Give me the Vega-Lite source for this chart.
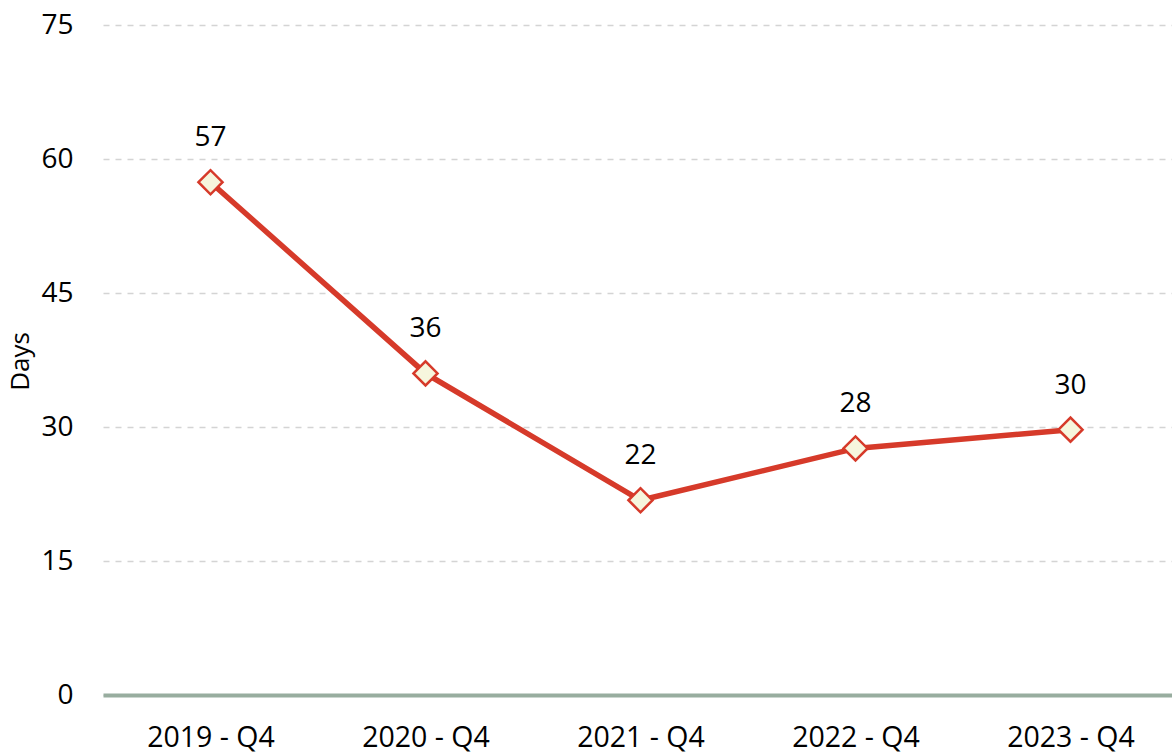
{
  "$schema": "https://vega.github.io/schema/vega-lite/v6.json",
  "autosize": {"type": "none"},
  "width": 1075,
  "height": 670,
  "padding": {"left": 103, "top": 25, "right": 0, "bottom": 60},
  "background": "white",
  "config": {
    "view": {"stroke": null},
    "font": "Open Sans"
  },
  "data": {
    "values": [
      {"quarter": "2019 - Q4", "days": 57.4},
      {"quarter": "2020 - Q4", "days": 36.0},
      {"quarter": "2021 - Q4", "days": 21.8},
      {"quarter": "2022 - Q4", "days": 27.6},
      {"quarter": "2023 - Q4", "days": 29.7}
    ]
  },
  "encoding": {
    "x": {
      "field": "quarter",
      "type": "ordinal",
      "scale": {"type": "point", "padding": 0.5},
      "axis": {
        "title": null,
        "labelAngle": 0,
        "labelFont": "Open Sans",
        "labelFontSize": 28.5,
        "labelColor": "#000000",
        "labelPadding": 28,
        "ticks": false,
        "domain": true,
        "domainColor": "#98ad9f",
        "domainWidth": 4,
        "grid": false
      }
    },
    "y": {
      "field": "days",
      "type": "quantitative",
      "scale": {"domain": [0, 75], "nice": false},
      "axis": {
        "title": "Days",
        "titleFont": "Open Sans",
        "titleFontSize": 26,
        "titleFontWeight": "normal",
        "titleColor": "#000000",
        "titleAngle": -90,
        "titleAlign": "center",
        "titleBaseline": "middle",
        "titleX": -83,
        "titleY": 336,
        "values": [0, 15, 30, 45, 60, 75],
        "labelFont": "Open Sans",
        "labelFontSize": 28,
        "labelColor": "#000000",
        "labelPadding": 30,
        "ticks": false,
        "domain": false,
        "grid": true,
        "gridColor": "#d4d4d4",
        "gridWidth": 1.5,
        "gridDash": [6, 6]
      }
    }
  },
  "layer": [
    {
      "mark": {"type": "line", "color": "#d63a2a", "strokeWidth": 5.5}
    },
    {
      "mark": {
        "type": "point",
        "shape": "diamond",
        "size": 580,
        "filled": true,
        "fill": "#f6f6dd",
        "fillOpacity": 1,
        "stroke": "#d63a2a",
        "strokeWidth": 2.5,
        "opacity": 1
      }
    },
    {
      "mark": {
        "type": "text",
        "font": "Open Sans",
        "fontSize": 28,
        "color": "#000000",
        "baseline": "middle",
        "dy": -44
      },
      "encoding": {
        "text": {"field": "days", "type": "quantitative", "format": ".0f"}
      }
    }
  ]
}
